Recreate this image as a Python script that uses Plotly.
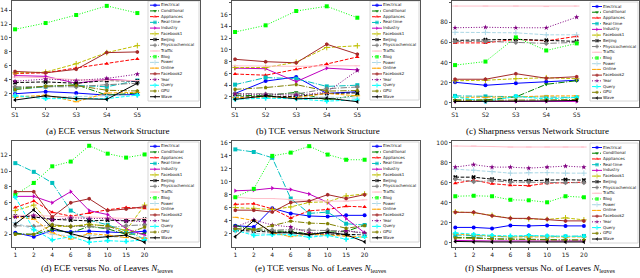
import plotly.graph_objects as go

W, H = 640, 278

names = ["Electrical", "Conditional", "Appliances", "Real-time", "Industry", "Facebook1",
         "Beijing", "Physicochemical", "Traffic", "Blog", "Power", "Online", "Facebook2",
         "Year", "Query", "GPU", "Wave"]
colors = ["#0000ff", "#008000", "#ff0000", "#00bfbf", "#bf00bf", "#bfbf00",
          "#000000", "#808080", "#ffc0cb", "#00ff00", "#add8e6", "#ffa500", "#a52a2a",
          "#800080", "#00ffff", "#808000", "#000000"]
symbols = ["circle", "triangle-down", "triangle-up", "square", "triangle-right", "cross-thin",
           "x", "diamond", "line-ew", "square", "cross-thin", "line-ew", "hexagon",
           "star", "cross", "pentagon", "triangle-left"]
dashes = ["solid", "dashdot", "dash", "dashdot", "solid", "dash",
          "dash", "dashdot", "solid", "dot", "dash", "dash", "solid",
          "dot", "dash", "dashdot", "solid"]

structures = ["S1", "S2", "S3", "S4", "S5"]
leaves = ["1", "2", "4", "6", "8", "10", "15", "20"]

ece_structure = [
    [2.0, 2.3, 2.1, 1.8, 1.9],
    [2.8, 3.0, 3.3, 1.8, 2.1],
    [4.9, 5.0, 5.7, 6.3, 7.0],
    [2.6, 3.0, 3.2, 3.0, 3.9],
    [4.6, 4.5, 3.5, 4.1, 3.8],
    [5.0, 5.1, 6.3, 7.9, 8.9],
    [3.6, 3.7, 3.5, 3.9, 3.8],
    [3.0, 3.0, 3.0, 3.3, 3.5],
    [4.4, 4.3, 4.0, 3.9, 3.9],
    [11.24, 12.14, 13.29, 14.6, 13.57],
    [1.8, 1.5, 1.6, 1.7, 1.8],
    [1.5, 1.8, 0.85, 2.1, 2.2],
    [5.2, 5.0, 5.5, 7.9, 8.0],
    [3.8, 4.1, 3.9, 4.2, 4.8],
    [1.7, 1.3, 1.3, 1.3, 1.8],
    [2.6, 3.1, 3.2, 2.5, 2.4],
    [1.1, 1.7, 1.3, 1.2, 3.5],
]

tce_structure = [
    [2.6, 4.7, 5.4, 2.6, 2.9],
    [2.3, 2.2, 2.8, 1.5, 2.3],
    [5.9, 5.7, 6.7, 7.6, 8.8],
    [4.1, 5.3, 5.1, 3.8, 4.0],
    [6.9, 6.8, 4.6, 6.9, 6.6],
    [7.0, 7.0, 7.9, 10.4, 10.7],
    [2.0, 2.1, 2.1, 2.6, 2.7],
    [2.6, 2.5, 2.5, 3.4, 3.7],
    [7.3, 7.2, 7.2, 7.3, 7.3],
    [13.04, 14.17, 16.6, 17.4, 15.46],
    [2.0, 1.8, 1.9, 2.0, 1.8],
    [1.9, 2.0, 1.9, 2.6, 2.2],
    [8.4, 8.0, 7.8, 10.96, 9.27],
    [2.5, 2.4, 2.3, 2.8, 6.5],
    [1.6, 1.8, 1.7, 1.3, 1.5],
    [3.3, 3.6, 4.1, 3.0, 3.1],
    [1.6, 2.2, 1.7, 1.8, 1.2],
]

sharpness_structure = [
    [20.5, 17.5, 19.5, 21.0, 22.5],
    [3.0, 3.0, 6.0, 18.5, 22.0],
    [59.5, 59.5, 63.0, 61.5, 66.0],
    [7.0, 6.5, 6.5, 6.0, 5.5],
    [1.5, 1.5, 1.5, 1.5, 1.5],
    [22.0, 22.5, 24.0, 25.0, 24.0],
    [62.0, 62.5, 63.0, 62.0, 61.0],
    [61.0, 61.0, 60.0, 59.0, 60.0],
    [96.0, 96.0, 96.0, 95.5, 96.0],
    [37.5, 41.0, 65.0, 52.0, 59.0],
    [70.0, 70.0, 69.5, 67.5, 67.5],
    [5.5, 5.5, 6.0, 7.0, 7.0],
    [23.5, 23.5, 29.0, 24.5, 26.0],
    [74.5, 75.0, 74.5, 74.5, 85.0],
    [6.0, 1.5, 6.5, 4.0, 5.5],
    [2.5, 2.5, 2.8, 3.0, 3.5],
    [1.5, 1.5, 2.0, 2.0, 2.5],
]

ece_leaves = [
    [2.2, 1.7, 2.5, 2.3, 2.4, 2.3, 2.2, 2.4],
    [2.1, 2.0, 2.6, 2.2, 3.0, 2.7, 2.0, 2.1],
    [5.4, 6.2, 4.8, 4.3, 4.7, 5.1, 5.4, 5.3],
    [11.0, 9.9, 8.5, 5.0, 3.8, 3.2, 2.4, 1.4],
    [6.8, 6.8, 6.0, 7.4, 5.0, 4.5, 2.7, 1.9],
    [5.0, 5.7, 3.0, 3.0, 3.3, 3.0, 2.5, 5.7],
    [4.3, 4.2, 3.9, 3.8, 3.7, 3.8, 3.7, 3.9],
    [3.1, 3.0, 3.2, 3.0, 3.0, 2.8, 3.1, 3.2],
    [4.4, 4.4, 4.3, 4.2, 4.2, 4.1, 4.0, 4.0],
    [7.0, 8.5, 10.6, 11.2, 13.2, 12.2, 11.7, 12.1],
    [3.5, 2.6, 2.0, 1.8, 1.9, 1.7, 1.6, 1.5],
    [4.2, 3.9, 2.2, 1.4, 2.1, 1.9, 1.6, 1.5],
    [7.4, 7.4, 4.2, 6.0, 6.5, 5.0, 5.2, 5.5],
    [4.2, 4.4, 3.8, 4.1, 4.0, 4.0, 3.7, 3.6],
    [6.7, 2.6, 1.3, 1.7, 1.0, 1.2, 1.1, 1.3],
    [2.0, 2.0, 3.2, 3.0, 3.2, 3.1, 2.1, 2.9],
    [3.3, 5.1, 2.8, 2.1, 1.5, 1.7, 1.9, 1.0],
]

tce_leaves = [
    [3.2, 3.0, 5.9, 5.1, 4.7, 4.6, 4.8, 4.8],
    [3.2, 2.6, 2.4, 2.3, 1.9, 2.2, 2.3, 3.3],
    [6.5, 6.6, 5.8, 4.4, 5.5, 5.7, 6.2, 6.1],
    [15.0, 14.6, 13.7, 7.4, 5.1, 5.3, 3.5, 3.3],
    [8.6, 8.7, 9.0, 8.8, 8.1, 6.8, 4.3, 2.1],
    [6.0, 5.9, 5.7, 6.1, 6.8, 6.9, 7.8, 8.1],
    [2.5, 2.3, 2.2, 2.2, 1.9, 1.9, 1.9, 1.8],
    [2.8, 2.5, 2.5, 2.6, 2.5, 2.5, 2.4, 2.0],
    [7.6, 7.4, 7.4, 7.2, 7.1, 7.0, 7.0, 7.2],
    [7.6, 8.9, 14.0, 14.5, 15.5, 14.2, 13.4, 13.4],
    [2.4, 2.0, 1.9, 1.9, 1.7, 1.7, 1.6, 1.8],
    [4.5, 4.0, 2.1, 1.5, 1.9, 1.8, 1.6, 1.4],
    [5.6, 5.6, 5.3, 6.8, 7.0, 8.0, 7.4, 8.0],
    [3.0, 4.1, 3.3, 3.0, 2.1, 2.0, 2.4, 2.1],
    [2.5, 1.7, 1.8, 1.8, 1.4, 1.7, 1.1, 1.5],
    [2.7, 2.6, 3.2, 3.9, 3.6, 3.5, 2.8, 3.2],
    [1.5, 4.0, 2.1, 2.1, 1.8, 2.2, 1.8, 0.7],
]

sharpness_leaves = [
    [15.5, 15.5, 14.5, 17.5, 17.0, 17.5, 17.0, 17.0],
    [5.5, 5.5, 4.0, 4.0, 4.0, 3.5, 3.0, 3.0],
    [59.5, 62.5, 59.0, 57.5, 57.0, 59.5, 60.0, 60.5],
    [8.0, 7.5, 6.5, 6.0, 7.0, 6.5, 6.5, 7.0],
    [2.5, 2.0, 2.0, 2.0, 2.0, 2.0, 2.0, 2.0],
    [31.0, 30.0, 27.5, 24.5, 24.0, 23.5, 25.0, 23.0],
    [65.5, 65.5, 63.5, 62.0, 62.0, 62.5, 63.0, 62.5],
    [63.5, 61.0, 62.0, 60.5, 60.5, 60.0, 60.0, 60.0],
    [96.5, 96.5, 96.0, 95.5, 95.5, 95.5, 95.5, 95.5],
    [46.5, 47.0, 46.5, 43.0, 42.5, 40.5, 46.5, 45.5],
    [73.5, 72.5, 71.0, 69.5, 70.0, 70.0, 69.5, 69.5],
    [9.0, 8.0, 6.5, 6.0, 6.0, 6.0, 5.5, 6.0],
    [30.5, 30.5, 27.0, 24.5, 24.5, 23.5, 22.0, 22.0],
    [75.5, 78.0, 75.5, 75.5, 74.5, 75.5, 76.5, 75.5],
    [10.0, 8.5, 7.5, 7.0, 7.5, 7.0, 6.5, 6.5],
    [5.0, 4.5, 4.0, 3.5, 3.5, 3.0, 3.0, 3.0],
    [1.5, 1.0, 1.0, 1.0, 1.0, 1.0, 1.0, 1.0],
]

captions = [
    "(a) ECE versus Network Structure",
    "(b) TCE versus Network Structure",
    "(c) Sharpness versus Network Structure",
    "(d) ECE versus No. of Leaves <i>N</i><sub>leaves</sub>",
    "(e) TCE versus No. of Leaves <i>N</i><sub>leaves</sub>",
    "(f) Sharpness versus No. of Leaves <i>N</i><sub>leaves</sub>",
]

y_ticks = [
    [2, 4, 6, 8, 10, 12, 14],
    [2, 4, 6, 8, 10, 12, 14, 16, 18],
    [0, 20, 40, 60, 80, 100],
    [2, 4, 6, 8, 10, 12],
    [2, 4, 6, 8, 10, 12, 14, 16],
    [0, 20, 40, 60, 80, 100],
]

# ---------- layout geometry (pixels) ----------
panels = [
    dict(data=ece_structure, cats=structures, box=(12, 200, 1, 107), yr=[0.1, 15.3], xr=[-0.1, 6.05],
         leg=(148, 199, 1, 101, 5.2), cap=(107, 131)),
    dict(data=tce_structure, cats=structures, box=(232, 420, 1, 107), yr=[0.3, 18.3], xr=[-0.1, 6.05],
         leg=(370, 419, 1, 100, 5.3), cap=(318, 131)),
    dict(data=sharpness_structure, cats=structures, box=(452, 639, 1, 107), yr=[-4, 101], xr=[-0.1, 6.05],
         leg=(590, 638, 2, 101, 6.5), cap=(537, 131)),
    dict(data=ece_leaves, cats=leaves, box=(12, 200, 141, 247), yr=[0.4, 13.8], xr=[-0.18, 10.0],
         leg=(148, 199, 142, 242, 146.3), cap=(107, 268)),
    dict(data=tce_leaves, cats=leaves, box=(232, 420, 141, 247), yr=[-0.1, 16.3], xr=[-0.18, 10.0],
         leg=(370, 419, 142, 242, 146.3), cap=(321, 268)),
    dict(data=sharpness_leaves, cats=leaves, box=(452, 639, 141, 247), yr=[-4, 101.5], xr=[-0.18, 10.0],
         leg=(590, 638, 143, 243, 147.5), cap=(540, 268)),
]

STEP = 5.72
dash_map = {"solid": "solid", "dash": "3.7px,1.6px", "dot": "1px,1.65px",
            "dashdot": "6.4px,1.6px,1px,1.6px"}
open_syms = {"cross-thin", "x-thin", "line-ew"}


def px_x(v):
    return v / W


def px_y(v):
    return 1 - v / H


fig = go.Figure()
layout = {}
shapes = []
annotations = []
n = len(panels)
tick_font = dict(family="DejaVu Sans", size=6, color="#222")

for p_i, p in enumerate(panels):
    k = p_i + 1
    ax = "" if k == 1 else str(k)
    x0, x1, yt, yb = p["box"]
    layout["xaxis" + ax] = dict(
        domain=[px_x(x0), px_x(x1)], anchor="y" + ax, type="category", range=p["xr"], autorange=False,
        showline=True, mirror=True, linecolor="#555", linewidth=1, showgrid=False, zeroline=False,
        ticks="outside", ticklen=2, tickcolor="#555", tickfont=tick_font, automargin=False,
        categoryorder="array", categoryarray=p["cats"], fixedrange=True)
    layout["yaxis" + ax] = dict(
        domain=[px_y(yb), px_y(yt)], anchor="x" + ax, range=p["yr"], autorange=False,
        tickvals=y_ticks[p_i], automargin=False,
        showline=True, mirror=True, linecolor="#555", linewidth=1, showgrid=False, zeroline=False,
        ticks="outside", ticklen=2, tickcolor="#555", tickfont=tick_font, fixedrange=True)
    for s_i, vals in enumerate(p["data"]):
        sym = symbols[s_i]
        fig.add_trace(go.Scatter(
            x=p["cats"], y=vals, mode="lines+markers", xaxis="x" + ax, yaxis="y" + ax,
            line=dict(color=colors[s_i], width=1, dash=dash_map[dashes[s_i]]),
            marker=dict(symbol=sym, size=4, color=colors[s_i],
                        line=dict(color=colors[s_i], width=1 if sym in open_syms else 0)),
            showlegend=False, hoverinfo="skip"))

    # custom legend drawn on an overlay axis pair
    lx0, lx1, lyt, lyb, ly0 = p["leg"]
    lk = str(k + n)
    layout["xaxis" + lk] = dict(domain=[px_x(lx0), px_x(lx1)], range=[lx0, lx1], autorange=False,
                                visible=False, anchor="y" + lk, fixedrange=True, automargin=False)
    layout["yaxis" + lk] = dict(domain=[px_y(lyb), px_y(lyt)], autorange=False,
                                range=[(lyb - ly0) / STEP, (lyt - ly0) / STEP], visible=False,
                                anchor="x" + lk, fixedrange=True, automargin=False)
    shapes.append(dict(type="rect", xref="paper", yref="paper", x0=px_x(lx0), x1=px_x(lx1),
                       y0=px_y(lyb), y1=px_y(lyt), fillcolor="rgba(255,255,255,0.85)",
                       line=dict(color="#cccccc", width=0.8), layer="below"))
    for s_i, name in enumerate(names):
        sym = symbols[s_i]
        fig.add_trace(go.Scatter(
            x=[lx0 + 2, lx0 + 7, lx0 + 12], y=[s_i, s_i, s_i], mode="lines+markers",
            xaxis="x" + lk, yaxis="y" + lk,
            line=dict(color=colors[s_i], width=1, dash=dash_map[dashes[s_i]]),
            marker=dict(symbol=sym, size=[0, 3.5, 0], color=colors[s_i],
                        line=dict(color=colors[s_i], width=1 if sym in open_syms else 0)),
            showlegend=False, hoverinfo="skip"))
    fig.add_trace(go.Scatter(
        x=[lx0 + 13] * len(names), y=list(range(len(names))), mode="text", text=names,
        textposition="middle right", textfont=dict(family="DejaVu Sans", size=4, color="#111"),
        xaxis="x" + lk, yaxis="y" + lk, showlegend=False, hoverinfo="skip", cliponaxis=False))

    cx, cy = p["cap"]
    annotations.append(dict(text=captions[p_i], x=px_x(cx), y=px_y(cy), xref="paper", yref="paper",
                            showarrow=False, xanchor="center", yanchor="middle",
                            font=dict(family="Liberation Serif", size=9, color="#000")))

fig.update_layout(
    template="none",
    width=W, height=H, margin=dict(l=0, r=0, t=0, b=0, pad=0), paper_bgcolor="white",
    plot_bgcolor="rgba(0,0,0,0)",
    showlegend=False, shapes=shapes, annotations=annotations, **layout)

fig.write_html("out.html", config={"displayModeBar": False, "staticPlot": True},
               post_script="document.body.style.margin='0';document.body.style.overflow='hidden';")
